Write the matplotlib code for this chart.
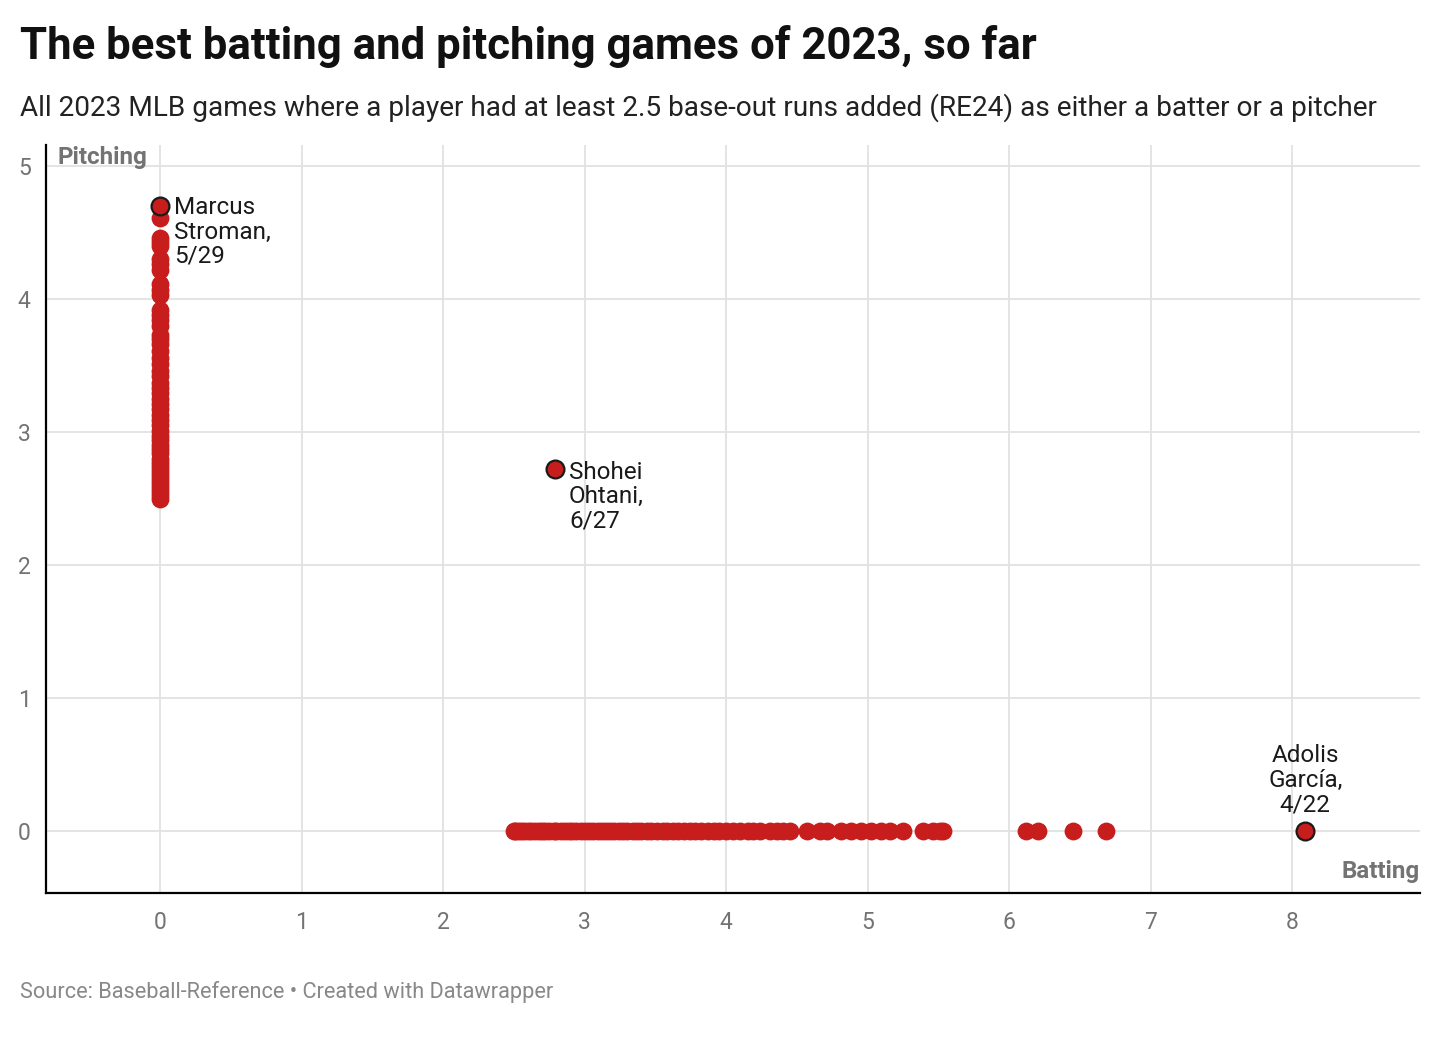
import matplotlib.pyplot as plt

plt.rcParams['font.family'] = ['Roboto', 'DejaVu Sans']

# batting RE24 games (pitching = 0)
batting = [2.50, 2.51, 2.53, 2.55, 2.57, 2.60, 2.62, 2.65, 2.68, 2.70, 2.72,
           2.75, 2.78, 2.80, 2.83, 2.86, 2.89, 2.91, 2.94, 2.97, 3.00, 3.03,
           3.06, 3.09, 3.12, 3.15, 3.18, 3.21, 3.24, 3.27, 3.30, 3.34, 3.37,
           3.40, 3.44, 3.47, 3.51, 3.55, 3.58, 3.62, 3.66, 3.70, 3.74, 3.78,
           3.82, 3.87, 3.91, 3.95, 4.00, 4.05, 4.10, 4.15, 4.19, 4.24, 4.31,
           4.36, 4.40, 4.45, 4.57, 4.66, 4.71, 4.81, 4.88, 4.95, 5.02, 5.09,
           5.16, 5.25, 5.39, 5.46, 5.51, 5.53, 6.12, 6.20, 6.45, 6.68]

# pitching RE24 games (batting = 0)
pitching = [2.50, 2.53, 2.56, 2.59, 2.62, 2.65, 2.68, 2.71, 2.74, 2.77, 2.80,
            2.84, 2.87, 2.90, 2.94, 2.97, 3.01, 3.05, 3.09, 3.13, 3.17, 3.21,
            3.25, 3.29, 3.33, 3.37, 3.42, 3.46, 3.51, 3.56, 3.61, 3.66, 3.70,
            3.73, 3.80, 3.84, 3.88, 3.92, 4.03, 4.07, 4.11, 4.22, 4.26, 4.30,
            4.40, 4.43, 4.46, 4.61]

# highlighted games: (batting, pitching, label)
highlights = [
    (0.0, 4.70, "Marcus\nStroman,\n5/29"),
    (2.79, 2.72, "Shohei\nOhtani,\n6/27"),
    (8.09, 0.0, "Adolis\nGarcía,\n4/22"),
]

red = "#c71e1d"
grey = "#737373"

fig = plt.figure(figsize=(14.4, 10.4), dpi=100)
ax = fig.add_axes([0.032, 0.141, 0.954, 0.72])

ax.scatter(batting, [0] * len(batting), s=165, color=red, lw=0, zorder=3)
ax.scatter([0] * len(pitching), pitching, s=165, color=red, lw=0, zorder=3)
for bx, py, lab in highlights:
    ax.scatter([bx], [py], s=165, color=red, edgecolor="#1a1a1a", lw=1.6, zorder=4)

bx, py, lab = highlights[0]
ax.annotate(lab, (bx, py), xytext=(10, 7), textcoords="offset points",
            ha="left", va="top", fontsize=17.5, color="#1a1a1a", linespacing=1.08)
bx, py, lab = highlights[1]
ax.annotate(lab, (bx, py), xytext=(10, 6), textcoords="offset points",
            ha="left", va="top", fontsize=17.5, color="#1a1a1a", linespacing=1.08)
bx, py, lab = highlights[2]
ax.annotate(lab, (bx, py), xytext=(0, 11), textcoords="offset points",
            ha="center", va="bottom", fontsize=17.5, color="#1a1a1a", linespacing=1.08)

ax.set_xlim(-0.806, 8.9)
ax.set_ylim(-0.466, 5.16)
ax.set_xticks(range(0, 9))
ax.set_yticks(range(0, 6))
ax.grid(True, color="#e2e2e2", lw=1.3, zorder=0)
ax.set_axisbelow(True)
for s in ["top", "right"]:
    ax.spines[s].set_visible(False)
ax.spines["left"].set_linewidth(1.6)
ax.spines["bottom"].set_linewidth(1.6)
ax.tick_params(length=0, labelsize=16.5, labelcolor=grey, pad=13)
ax.tick_params(axis="y", pad=11)

ax.text(0.008, 0.998, "Pitching", transform=ax.transAxes, ha="left", va="top",
        fontsize=17.4, fontweight="bold", color=grey)
ax.text(1.0, 0.045, "Batting", transform=ax.transAxes, ha="right", va="top",
        fontsize=17.4, fontweight="bold", color=grey)

fig.text(0.014, 0.955, "The best batting and pitching games of 2023, so far",
         ha="left", va="center", fontsize=31.5, fontweight="bold", color="#111111")
fig.text(0.014, 0.897, "All 2023 MLB games where a player had at least 2.5 base-out runs added (RE24) as either a batter or a pitcher",
         ha="left", va="center", fontsize=20.2, color="#222222")
fig.text(0.014, 0.046, "Source: Baseball-Reference \u2022 Created with Datawrapper",
         ha="left", va="center", fontsize=15.7, color="#888888")

fig.savefig("out.png", dpi=100)
